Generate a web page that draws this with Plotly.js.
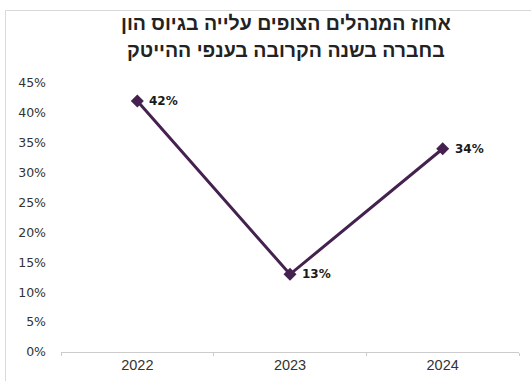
<!DOCTYPE html>
<html>
<head>
<meta charset="utf-8">
<script src="https://cdn.plot.ly/plotly-3.0.1.min.js"></script>
<style>html,body{margin:0;padding:0;background:#fff;}#chart{width:531px;height:381px;}</style>
</head>
<body>
<div id="chart"></div>
<script>
const years = ['2022', '2023', '2024'];
const shares = [42, 13, 34];
const valueLabels = ['42%', '13%', '34%'];
const yTickVals = [0, 5, 10, 15, 20, 25, 30, 35, 40, 45];
const yTickText = ['0%', '5%', '10%', '15%', '20%', '25%', '30%', '35%', '40%', '45%'];
const titleLines = ['אחוז המנהלים הצופים עלייה בגיוס הון', 'בחברה בשנה הקרובה בענפי ההייטק'];

const W = 531, H = 381, L = 61, R = 12, T = 83, B = 29;
const pw = W - L - R, ph = H - T - B;
const px = v => (v - L) / pw;
const py = v => (H - B - v) / ph;

const trace = {
  x: years,
  y: shares,
  type: 'scatter',
  mode: 'lines+markers',
  line: {color: '#45214f', width: 3},
  marker: {symbol: 'diamond', size: 10, color: '#45214f'},
  cliponaxis: false,
  hoverinfo: 'skip'
};

// category axis: annotation x uses the category index
const labelAnns = years.map((yr, i) => ({
  x: i, y: shares[i], xref: 'x', yref: 'y',
  text: '<b>' + valueLabels[i] + '</b>',
  showarrow: false, xanchor: 'left', yanchor: 'middle', xshift: 10,
  font: {family: 'DejaVu Sans', size: 12, color: '#1a1a1a'}
}));

const titleAnns = titleLines.map((t, i) => ({
  x: px(286), y: py(23 + i * 27), xref: 'paper', yref: 'paper',
  text: '<b>' + t + '</b>',
  showarrow: false, xanchor: 'center', yanchor: 'middle',
  font: {family: 'Liberation Sans, DejaVu Sans', size: 19.5, color: '#222222'}
}));

const layout = {
  width: W, height: H,
  margin: {l: L, r: R, t: T, b: B, pad: 0},
  paper_bgcolor: '#ffffff',
  plot_bgcolor: '#ffffff',
  showlegend: false,
  xaxis: {
    type: 'category',
    range: [-0.5, 2.5],
    showgrid: false,
    zeroline: false,
    showline: true,
    linecolor: '#cccccc',
    linewidth: 1,
    ticks: 'outside',
    tickson: 'boundaries',
    ticklen: 3,
    tickcolor: '#cccccc',
    tickfont: {family: 'Liberation Sans, Arial', size: 14.5, color: '#333333'},
    fixedrange: true
  },
  yaxis: {
    range: [0, 45],
    tickvals: yTickVals,
    ticktext: yTickText,
    showgrid: false,
    zeroline: false,
    showline: false,
    ticks: '',
    ticklabelstandoff: 14,
    tickfont: {family: 'DejaVu Sans', size: 12.5, color: '#333333'},
    fixedrange: true
  },
  annotations: titleAnns.concat(labelAnns),
  shapes: [{
    type: 'rect', xref: 'paper', yref: 'paper',
    x0: px(5.5), x1: px(560), y0: py(10.5), y1: py(420),
    line: {color: '#d9d9d9', width: 1},
    fillcolor: 'rgba(0,0,0,0)', layer: 'below'
  }]
};

Plotly.newPlot('chart', [trace], layout, {displayModeBar: false, staticPlot: true});
</script>
</body>
</html>
